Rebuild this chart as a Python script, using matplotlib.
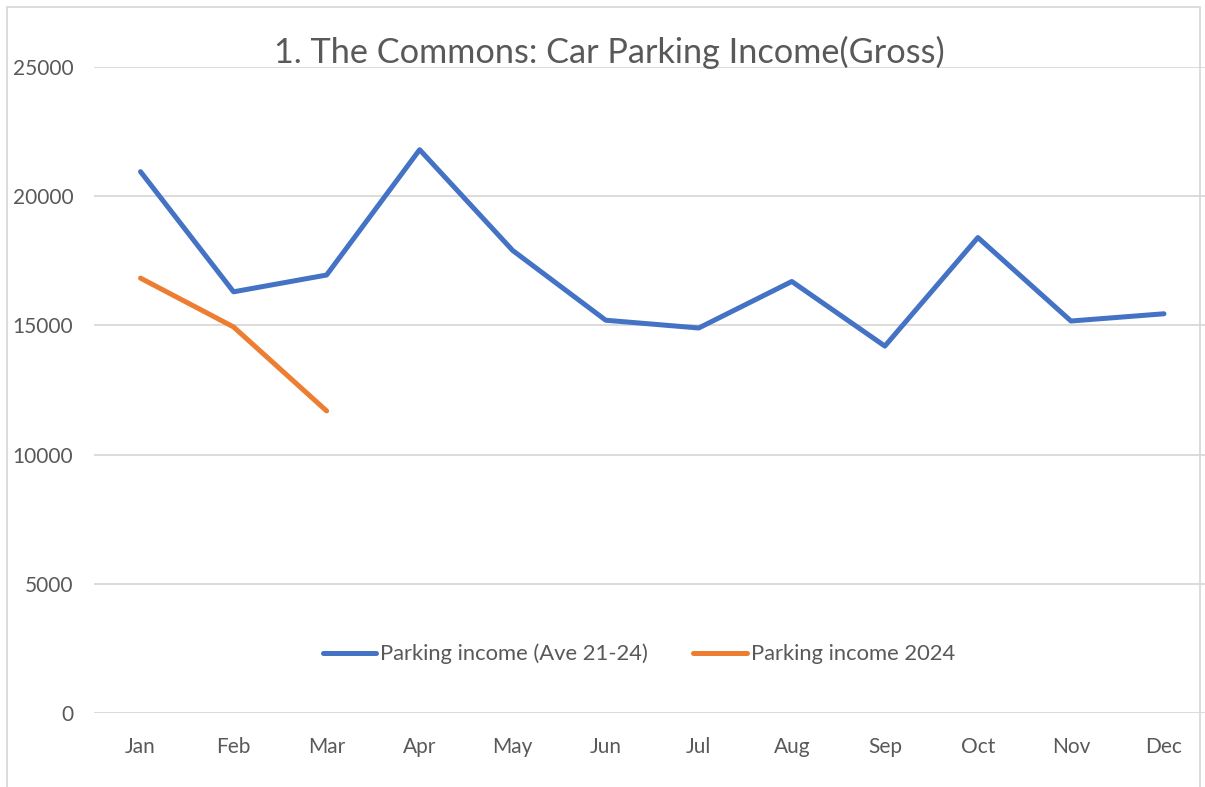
import matplotlib
import matplotlib.pyplot as plt
from matplotlib.patches import Rectangle
plt.switch_backend('agg')

months = ['Jan', 'Feb', 'Mar', 'Apr', 'May', 'Jun',
          'Jul', 'Aug', 'Sep', 'Oct', 'Nov', 'Dec']
income_ave = [20950, 16300, 16950, 21800, 17900, 15200,
              14900, 16700, 14200, 18400, 15170, 15450]
income_2024 = [16830, 14940, 11690]
yticks = [0, 5000, 10000, 15000, 20000, 25000]

plt.rcParams['font.family'] = ['Lato', 'DejaVu Sans']
grey = '#595959'

fig = plt.figure(figsize=(12.05, 7.87), dpi=100)
W, H = 1205, 787
ax = fig.add_axes([94 / W, 1 - 713 / H, (1210.5 - 94) / W, (713 - 67) / H])

x = list(range(len(months)))
ax.plot(x, income_ave, color='#4472C4', lw=3.6, solid_capstyle='round',
        label='Parking income (Ave 21-24)')
ax.plot(x[:len(income_2024)], income_2024, color='#ED7D31', lw=3.6,
        solid_capstyle='round', label='Parking income 2024')

ax.set_xlim(-0.5, len(months) - 0.5)
ax.set_ylim(0, 25000)
ax.set_yticks(yticks)
ax.set_xticks(x)
ax.set_xticklabels(months)
ax.yaxis.grid(True, color='#D9D9D9', lw=1.3)
ax.set_axisbelow(True)
for s in ax.spines.values():
    s.set_visible(False)
ax.tick_params(length=0, labelsize=15, labelcolor=grey)
ax.tick_params(axis='y', pad=15)
ax.tick_params(axis='x', pad=17)

fig.text(609 / W, 1 - 52 / H, '1. The Commons: Car Parking Income(Gross)',
         ha='center', va='center', fontsize=24.7, color=grey)

ax.legend(loc='center', bbox_to_anchor=(639 / W, 1 - 654 / H),
          bbox_transform=fig.transFigure, ncol=2, frameon=False,
          fontsize=15.8, labelcolor=grey, handlelength=2.45,
          handletextpad=0.18, columnspacing=2.05)

fig.patches.append(Rectangle((7 / W, -0.01), (1200 - 7) / W, 1 - 7 / H + 0.01,
                             transform=fig.transFigure, fill=False,
                             edgecolor='#D9D9D9', lw=1.3))

fig.savefig('out.png', dpi=100)
